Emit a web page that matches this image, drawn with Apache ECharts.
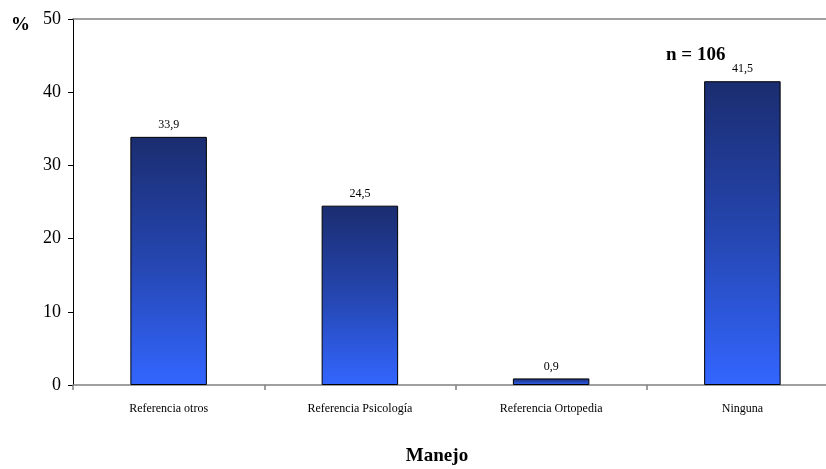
<!DOCTYPE html>
<html><head><meta charset="utf-8">
<script src="https://cdn.jsdelivr.net/npm/echarts@6/dist/echarts.min.js"></script>
<style>html,body{margin:0;padding:0;background:#fff}#c{width:826px;height:469px}</style>
</head><body><div id="c"></div>
<script>
var categories = ['Referencia otros', 'Referencia Psicología', 'Referencia Ortopedia', 'Ninguna'];
var values = [33.9, 24.5, 0.9, 41.5];
var yTicks = [0, 10, 20, 30, 40, 50];

var chart = echarts.init(document.getElementById('c'));
var serif = '"Liberation Serif", "DejaVu Serif", serif';
chart.setOption({
  animation: false,
  grid: { left: 73, right: -12, top: 19, bottom: 84, containLabel: false, outerBoundsMode: 'none' },
  xAxis: [{
    type: 'category', data: categories,
    axisLine: { lineStyle: { color: '#808080', width: 1.5 } },
    axisTick: { show: true, length: 5, lineStyle: { color: '#808080', width: 1.5 } },
    axisLabel: { fontFamily: serif, fontSize: 12, color: '#000', margin: 18 },
    name: 'Manejo', nameLocation: 'middle', nameGap: 62,
    nameTextStyle: { fontFamily: serif, fontSize: 19, fontWeight: 'bold', color: '#000', padding: [0, 0, 0, -37] }
  }, {
    type: 'category', data: categories, position: 'top',
    axisLine: { show: true, lineStyle: { color: '#808080', width: 1.5 } },
    axisTick: { show: false }, axisLabel: { show: false }
  }],
  yAxis: {
    type: 'value', min: yTicks[0], max: yTicks[yTicks.length - 1], interval: 10,
    axisLine: { show: true, lineStyle: { color: '#000', width: 1 } },
    axisTick: { show: true, length: 5, lineStyle: { color: '#000' } },
    axisLabel: { fontFamily: serif, fontSize: 18, color: '#000', margin: 12 },
    splitLine: { show: false },
    name: '%', nameLocation: 'end', nameGap: -6,
    nameTextStyle: { fontFamily: serif, fontSize: 19, fontWeight: 'bold', color: '#000', align: 'right', verticalAlign: 'middle', padding: [0, 43, 0, 0] }
  },
  series: [{
    type: 'bar', data: values, barWidth: '40%',
    itemStyle: {
      borderColor: '#000', borderWidth: 1,
      color: new echarts.graphic.LinearGradient(0, 0, 0, 1, [
        { offset: 0, color: '#1b2d70' },
        { offset: 0.5, color: '#2546b0' },
        { offset: 1, color: '#3366ff' }
      ], false)
    },
    label: {
      show: true, position: 'top', distance: 6,
      fontFamily: serif, fontSize: 12, color: '#000',
      formatter: function (p) { return String(p.value).replace('.', ','); }
    }
  }],
  graphic: [{
    type: 'text', left: 666, top: 46,
    style: { text: 'n = 106', font: 'bold 19px "Liberation Serif", serif', fill: '#000' }
  }]
});
</script>
</body></html>
